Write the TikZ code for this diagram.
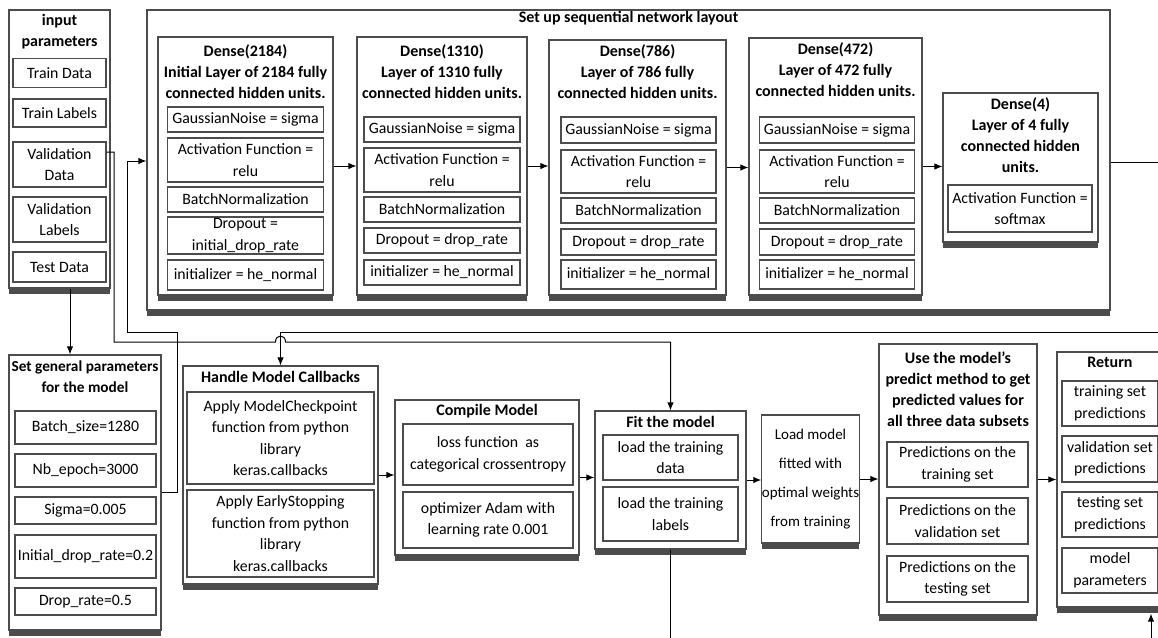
\documentclass[tikz,border=0pt]{standalone}
\usepackage{fontspec}
\setmainfont{Carlito}
\usepackage{tikz}
\usetikzlibrary{arrows.meta,shadows}
\newcommand{\boxfont}{\fontsize{15.8}{21.5}\selectfont}
\newcommand{\headfont}{\fontsize{16}{21}\selectfont\bfseries}

\begin{document}
\begin{tikzpicture}[x=1pt,y=-1pt]
	\tikzset{> = {Latex[length=8pt,width=6.5pt]}}
	\tikzset{frame/.style = {draw=black!70, line width=1.2pt, fill=white, inner sep=0pt,
			drop shadow={shadow xshift=0pt, shadow yshift=-6pt, fill=black!70, opacity=1}},
		item/.style = {draw=black!70, line width=1.1pt, fill=white, align=center, inner sep=1pt, font=\boxfont},
		head/.style = {align=center, inner sep=0pt, font=\headfont},
		link/.style = {draw=black, line width=1pt}}
	\useasboundingbox (0,0) rectangle (1158,637);
	\clip (0,0) rectangle (1158,637);

	% input parameters
	\node[frame, minimum width=101pt, minimum height=278pt] (inp) at (59.5,149) {};
	\node[head] (inpT) at (59.5,31.5) {input\\parameters};
	\node[item, minimum width=93pt, minimum height=29pt] (trd) at (59.5,73) {Train Data};
	\node[item, minimum width=93pt, minimum height=28pt] (trl) at (59.5,113) {Train Labels};
	\node[item, minimum width=93pt, minimum height=45pt] (vad) at (59.5,164.5) {Validation\\Data};
	\node[item, minimum width=93pt, minimum height=45pt] (val) at (59.5,219.5) {Validation\\Labels};
	\node[item, minimum width=93pt, minimum height=30pt] (ted) at (59.5,267) {Test Data};

	% general parameters
	\node[frame, minimum width=152pt, minimum height=275pt] (gen) at (85,492.5) {};
	\node[head, font=\fontsize{15.3}{21}\selectfont\bfseries] (genT) at (85,377) {Set general parameters\\for the model};
	\node[item, minimum width=141pt, minimum height=33pt] (bs) at (85.5,427.5) {Batch\_size=1280};
	\node[item, minimum width=141pt, minimum height=33pt] (nb) at (85.5,470.5) {Nb\_epoch=3000};
	\node[item, minimum width=141pt, minimum height=27pt] (sg) at (85.5,510.5) {Sigma=0.005};
	\node[item, minimum width=141pt, minimum height=43pt] (idr) at (85.5,556.5) {Initial\_drop\_rate=0.2};
	\node[item, minimum width=141pt, minimum height=27pt] (dr) at (85.5,601.5) {Drop\_rate=0.5};

	% sequential network layout
	\node[frame, minimum width=963pt, minimum height=300pt] (net) at (628.5,160) {};
	\node[head] (netT) at (628.5,18) {Set up sequential network layout};

	\node[frame, minimum width=175pt, minimum height=258pt] (d1) at (245.5,166) {};
	\node[head] (d1T) at (245.5,72) {Dense(2184)\\Initial Layer of 2184 fully\\connected hidden units.};
	\node[item, minimum width=156pt, minimum height=25pt] (d1a) at (245.5,119.5) {GaussianNoise = sigma};
	\node[item, minimum width=156pt, minimum height=44pt] (d1b) at (245.5,160) {Activation Function =\\relu};
	\node[item, minimum width=156pt, minimum height=25pt] (d1c) at (245.5,199.5) {BatchNormalization};
	\node[item, minimum width=156pt, minimum height=37pt] (d1d) at (245.5,235.5) {Dropout =\\initial\_drop\_rate};
	\node[item, minimum width=156pt, minimum height=30pt] (d1e) at (245.5,275) {initializer = he\_normal};

	\node[frame, minimum width=170pt, minimum height=258pt] (d2) at (442,166) {};
	\node[head] (d2T) at (442,72) {Dense(1310)\\Layer of 1310 fully\\connected hidden units.};
	\node[item, minimum width=156pt, minimum height=25pt] (d2a) at (442,129.5) {GaussianNoise = sigma};
	\node[item, minimum width=156pt, minimum height=44pt] (d2b) at (442,170) {Activation Function =\\relu};
	\node[item, minimum width=156pt, minimum height=25pt] (d2c) at (442,209.5) {BatchNormalization};
	\node[item, minimum width=156pt, minimum height=25pt] (d2d) at (442,240.5) {Dropout = drop\_rate};
	\node[item, minimum width=156pt, minimum height=25pt] (d2e) at (442,272.5) {initializer = he\_normal};

	\node[frame, minimum width=177pt, minimum height=255pt] (d3) at (637.5,167.5) {};
	\node[head] (d3T) at (637.5,72) {Dense(786)\\Layer of 786 fully\\connected hidden units.};
	\node[item, minimum width=155pt, minimum height=26pt] (d3a) at (638.5,130) {GaussianNoise = sigma};
	\node[item, minimum width=155pt, minimum height=43pt] (d3b) at (638.5,171.5) {Activation Function =\\relu};
	\node[item, minimum width=155pt, minimum height=25pt] (d3c) at (638.5,210.5) {BatchNormalization};
	\node[item, minimum width=155pt, minimum height=26pt] (d3d) at (638.5,242) {Dropout = drop\_rate};
	\node[item, minimum width=155pt, minimum height=29pt] (d3e) at (638.5,274.5) {initializer = he\_normal};

	\node[frame, minimum width=173pt, minimum height=257pt] (d4) at (835.5,166.5) {};
	\node[head] (d4T) at (835.5,70) {Dense(472)\\Layer of 472 fully\\connected hidden units.};
	\node[item, minimum width=155pt, minimum height=26pt] (d4a) at (837,130) {GaussianNoise = sigma};
	\node[item, minimum width=155pt, minimum height=43pt] (d4b) at (837,171.5) {Activation Function =\\relu};
	\node[item, minimum width=155pt, minimum height=25pt] (d4c) at (837,210.5) {BatchNormalization};
	\node[item, minimum width=155pt, minimum height=26pt] (d4d) at (837,242) {Dropout = drop\_rate};
	\node[item, minimum width=155pt, minimum height=29pt] (d4e) at (837,274.5) {initializer = he\_normal};

	\node[frame, minimum width=155pt, minimum height=149pt] (d5) at (1020.5,167.5) {};
	\node[head] (d5T) at (1020.5,135) {Dense(4)\\Layer of 4 fully\\connected hidden\\units.};
	\node[item, minimum width=144pt, minimum height=47pt] (d5a) at (1020,208.5) {Activation Function =\\softmax};

	% callbacks, compile, fit
	\node[frame, minimum width=195pt, minimum height=218pt] (hmc) at (280.5,475) {};
	\node[head] (hmcT) at (280.5,377) {Handle Model Callbacks};
	\node[item, minimum width=187pt, minimum height=92pt] (mcp) at (280.5,438) {Apply ModelCheckpoint\\function from python\\library\\keras.callbacks};
	\node[item, minimum width=187pt, minimum height=87pt] (est) at (280.5,533.5) {Apply EarlyStopping\\function from python\\library\\keras.callbacks};

	\node[frame, minimum width=184pt, minimum height=155pt] (cmp) at (487,477.5) {};
	\node[head] (cmpT) at (487,411) {Compile Model};
	\node[item, minimum width=170pt, minimum height=61pt] (los) at (488,454.5) {loss function\ \ as\\categorical crossentropy};
	\node[item, minimum width=170pt, minimum height=56pt] (opt) at (488,520) {optimizer Adam with\\learning rate 0.001};

	\node[frame, minimum width=151pt, minimum height=138pt] (fit) at (670.5,480) {};
	\node[head] (fitT) at (670.5,422) {Fit the model};
	\node[item, minimum width=135pt, minimum height=45pt] (ltd) at (670.5,457.5) {load the training\\data};
	\node[item, minimum width=135pt, minimum height=54pt] (ltl) at (670.5,514) {load the training\\labels};

	% load, predict, return
	\node[frame, align=center, font=\fontsize{15}{29}\selectfont, minimum width=97pt, minimum height=128pt] (ldm) at (810.5,479) {Load model\\fitted with\\optimal weights\\from training};

	\node[frame, minimum width=158pt, minimum height=271pt] (use) at (958,479.5) {};
	\node[head] (useT) at (958,389) {Use the model's\\predict method to get\\predicted values for\\all three data subsets};
	\node[item, minimum width=141pt, minimum height=45pt] (ptr) at (957.5,464.5) {Predictions on the\\training set};
	\node[item, minimum width=141pt, minimum height=46pt] (pva) at (957.5,521) {Predictions on the\\validation set};
	\node[item, minimum width=141pt, minimum height=46pt] (pte) at (957.5,579) {Predictions on the\\testing set};

	\node[frame, minimum width=108pt, minimum height=255pt] (ret) at (1111,479.5) {};
	\node[head] (retT) at (1110,362) {Return};
	\node[item, minimum width=96pt, minimum height=45pt] (rtr) at (1110,403.5) {training set\\predictions};
	\node[item, minimum width=96pt, minimum height=46pt] (rva) at (1110,459) {validation set\\predictions};
	\node[item, minimum width=96pt, minimum height=45pt] (rte) at (1110,514.5) {testing set\\predictions};
	\node[item, minimum width=96pt, minimum height=45pt] (rmp) at (1110,570.5) {model\\parameters};

	% connectors
	\coordinate (g1) at (177,332);
	\coordinate (g2) at (127,161);
	\coordinate (v1) at (114,342);
	\coordinate (h1) at (275.5,342);
	\coordinate (h2) at (285.5,342);
	\coordinate (outR) at (1160,162);
	\coordinate (inR) at (1160,332);
	\coordinate (outB) at (670.5,640);
	\coordinate (inB) at (1151,640);

	\draw[link, ->] ([xshift=10.5pt]inp.south) -- ([xshift=10.5pt]inp.south |- gen.north);
	\draw[link, ->] (gen.east) -| (g1) -| (g2) -- (g2 -| net.west);
	\draw[link, ->] ([yshift=12.5pt]vad.east) -| (v1) -- (h1) .. controls (275.5,334) and (285.5,334) .. (h2) -- (v1 -| fit.north) -- (fit.north);
	\draw[link, ->] (d1.east) -- (d1.east -| d2.west);
	\draw[link, ->] (d2.east) -- (d2.east -| d3.west);
	\draw[link, ->] (d3.east) -- (d3.east -| d4.west);
	\draw[link, ->] (d4.east) -- (d4.east -| d5.west);
	\draw[link] (net.east |- outR) -- (outR);
	\draw[link, ->] (inR) -| (hmc.north);
	\draw[link, ->] (hmc.east) -- (hmc.east -| cmp.west);
	\draw[link, ->] (cmp.east) -- (cmp.east -| fit.west);
	\draw[link, ->] (fit.east) -- (fit.east -| ldm.west);
	\draw[link, ->] (ldm.east) -- (ldm.east -| use.west);
	\draw[link, ->] (use.east) -- (use.east -| ret.west);
	\draw[link] (fit.south) -- (outB);
	\draw[link, ->, shorten >=6pt] (inB) -- (inB |- ret.south);
\end{tikzpicture}
\end{document}
